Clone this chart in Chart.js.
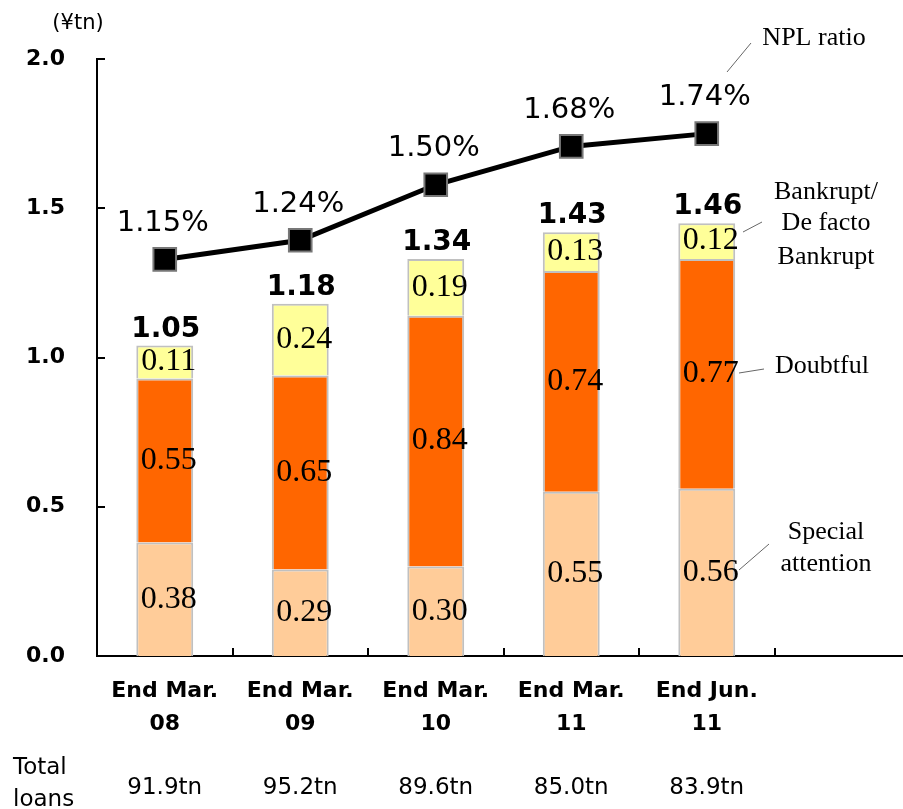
<!DOCTYPE html>
<html>
<head>
<meta charset="utf-8">
<script src="https://cdn.jsdelivr.net/npm/chart.js@4"></script>
<style>
  body { margin: 0; background: #fff; overflow: hidden; }
  #wrap { width: 903px; height: 809px; overflow: hidden; }
  canvas { display: block; }
</style>
</head>
<body>
<div id="wrap"><canvas id="nplChart" width="928" height="809"></canvas></div>
<script>
//Chart data
var categories = [["End Mar.", "08"], ["End Mar.", "09"], ["End Mar.", "10"], ["End Mar.", "11"], ["End Jun.", "11"], ""];
var specialAttention = [0.38, 0.29, 0.30, 0.55, 0.56];
var doubtful = [0.55, 0.65, 0.84, 0.74, 0.77];
var bankrupt = [0.11, 0.24, 0.19, 0.13, 0.12];
var totals = [1.05, 1.18, 1.34, 1.43, 1.46];
var nplRatio = [1.15, 1.24, 1.50, 1.68, 1.74];
var totalLoans = ["91.9tn", "95.2tn", "89.6tn", "85.0tn", "83.9tn"];
var yTicks = [0, 0.5, 1.0, 1.5, 2.0];

var sansFont = "'DejaVu Sans', sans-serif";
var serifFont = "'Liberation Serif', 'Times New Roman', serif";

//Text, tick marks and call-outs drawn on top of the chart
var annotatePlugin = {
  id: "annotate",
  afterDraw: function(chart) {
    var ctx = chart.ctx;
    var x = chart.scales.x;
    var y = chart.scales.y;
    var area = chart.chartArea;
    ctx.save();

    //inward tick marks
    ctx.strokeStyle = "#000";
    ctx.lineWidth = 2;
    yTicks.forEach(function(v) {
      var py = Math.round(y.getPixelForValue(v));
      ctx.beginPath();
      ctx.moveTo(area.left, py);
      ctx.lineTo(area.left + 8, py);
      ctx.stroke();
    });
    for (var i = 1; i < categories.length; i++) {
      var px = Math.round((x.getPixelForValue(i - 1) + x.getPixelForValue(i)) / 2);
      ctx.beginPath();
      ctx.moveTo(px, area.bottom);
      ctx.lineTo(px, area.bottom - 8);
      ctx.stroke();
    }

    //category labels
    ctx.fillStyle = "#000";
    ctx.textAlign = "center";
    ctx.textBaseline = "middle";
    ctx.font = "bold 22px " + sansFont;
    categories.forEach(function(c, idx) {
      if (!c) return;
      ctx.fillText(c[0], x.getPixelForValue(idx), 691);
      ctx.fillText(c[1], x.getPixelForValue(idx), 724);
    });

    //segment values inside bars
    ctx.font = "32px " + serifFont;
    [0, 1, 2].forEach(function(ds) {
      chart.getDatasetMeta(ds).data.forEach(function(bar, idx) {
        var val = chart.data.datasets[ds].data[idx];
        ctx.fillText(val.toFixed(2), bar.x + 4, (bar.y + bar.base) / 2);
      });
    });

    //stack totals
    ctx.font = "bold 28px " + sansFont;
    ctx.textBaseline = "alphabetic";
    chart.getDatasetMeta(2).data.forEach(function(bar, idx) {
      ctx.fillText(totals[idx].toFixed(2), bar.x + 1, bar.y - 9);
    });

    //NPL ratio labels
    ctx.font = "29px " + sansFont;
    ctx.textBaseline = "middle";
    chart.getDatasetMeta(3).data.forEach(function(pt, idx) {
      ctx.fillText(nplRatio[idx].toFixed(2) + "%", pt.x - 2, pt.y - 36);
    });

    //total loans row
    ctx.font = "23px " + sansFont;
    totalLoans.forEach(function(t, idx) {
      ctx.fillText(t, x.getPixelForValue(idx), 788);
    });
    ctx.textAlign = "left";
    ctx.fillText("Total", 13, 768);
    ctx.fillText("loans", 13, 800);

    //unit label
    ctx.textAlign = "center";
    ctx.font = "21px " + sansFont;
    ctx.fillText("(\u00a5tn)", 78, 24);

    //series call-outs
    ctx.font = "26px " + serifFont;
    ctx.fillText("NPL ratio", 814, 38);
    ctx.fillText("Bankrupt/", 826, 192);
    ctx.fillText("De facto", 826, 223);
    ctx.fillText("Bankrupt", 826, 257);
    ctx.fillText("Doubtful", 822, 366);
    ctx.fillText("Special", 826, 532);
    ctx.fillText("attention", 826, 564);

    ctx.strokeStyle = "#666";
    ctx.lineWidth = 1;
    [[727, 72, 751, 43], [743, 232, 762, 222], [739, 373, 764, 369], [739, 570, 769, 544]].forEach(function(l) {
      ctx.beginPath();
      ctx.moveTo(l[0], l[1]);
      ctx.lineTo(l[2], l[3]);
      ctx.stroke();
    });

    ctx.restore();
  }
};

var ctx = document.getElementById("nplChart").getContext("2d");
var chart = new Chart(ctx, {
  type: "bar",
  data: {
    labels: categories,
    datasets: [
      {
        label: "Special attention",
        data: specialAttention,
        backgroundColor: "#FFCC99",
        borderColor: "#C0C0C0",
        borderWidth: 2,
        order: 1,
      },
      {
        label: "Doubtful",
        data: doubtful,
        backgroundColor: "#FF6600",
        borderColor: "#C0C0C0",
        borderWidth: 2,
        order: 1,
      },
      {
        label: "Bankrupt/De facto Bankrupt",
        data: bankrupt,
        backgroundColor: "#FFFF99",
        borderColor: "#C0C0C0",
        borderWidth: 2,
        order: 1,
      },
      {
        type: "line",
        label: "NPL ratio",
        data: nplRatio,
        yAxisID: "y2",
        borderColor: "#000",
        borderWidth: 5,
        pointStyle: "rect",
        pointRadius: 16,
        pointBackgroundColor: "#000",
        pointBorderColor: "#777",
        pointBorderWidth: 2,
        order: 0,
      },
    ],
  },
  options: {
    responsive: false,
    animation: false,
    devicePixelRatio: 1,
    barPercentage: 0.42,
    categoryPercentage: 1,
    layout: { padding: { top: 59, right: 0, bottom: 0, left: 0 } },
    plugins: {
      legend: { display: false },
      tooltip: { enabled: false },
    },
    scales: {
      x: {
        stacked: true,
        grid: { display: false, drawTicks: false },
        border: { display: true, color: "#000", width: 2 },
        ticks: { display: false },
        afterFit: function(scale) { scale.height = 153; },
      },
      y: {
        stacked: true,
        min: 0,
        max: 2,
        grid: { display: false, drawTicks: false },
        border: { display: true, color: "#000", width: 2 },
        ticks: {
          stepSize: 0.5,
          color: "#000",
          padding: 32,
          font: { family: sansFont, size: 22, weight: "bold" },
          callback: function(v) { return v.toFixed(1); },
        },
        afterFit: function(scale) { scale.width = 97; },
      },
      y2: {
        display: false,
        min: -0.71,
        max: 2.09,
      },
    },
  },
  plugins: [annotatePlugin],
});
</script>
</body>
</html>
